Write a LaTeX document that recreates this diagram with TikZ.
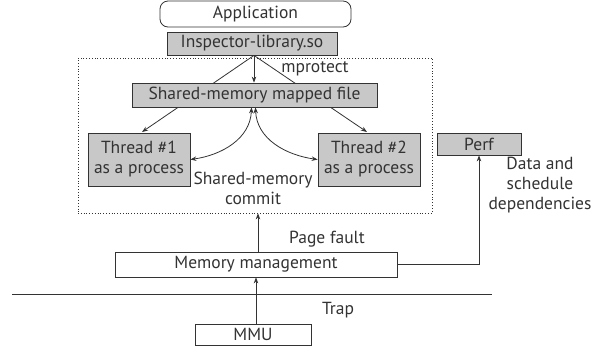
\documentclass[tikz,border=0pt]{standalone}
\usepackage{fontspec}
\setmainfont{PT Sans}
\usetikzlibrary{arrows.meta,positioning,calc}
\definecolor{boxgray}{RGB}{200,200,200}
\definecolor{ink}{RGB}{51,51,51}

\begin{document}
\begin{tikzpicture}[x=1pt,y=-1pt,font=\fontsize{17.5}{20}\selectfont,
  every node/.style={text=ink,inner sep=0pt,align=center},
  >={Stealth[length=6pt,width=4.5pt]}]
\tikzset{plain box/.style={draw=ink,line width=0.8pt,fill=white}}
\tikzset{gray box/.style={plain box,fill=boxgray}}
\tikzset{link/.style={draw=ink,line width=0.8pt}}
\useasboundingbox (0,0) rectangle (599,349);
% user space
\node [plain box,rounded corners=8pt,minimum width=191pt,minimum height=26pt] (app) at (255.5,14) {Application};
\node [gray box,minimum width=170pt,minimum height=23pt] (insp) at (252,43.5) {Inspector-library.so};
% dotted region with the threads
\node [draw=ink,dotted,line width=0.8pt,minimum width=354pt,minimum height=155pt] (frame) at (255,135.5) {};
\node [gray box,minimum width=102pt,minimum height=53pt] (thr1) at (139,159.5) {Thread \#1\\as a process};
\node [gray box,minimum width=102pt,minimum height=53pt] (thr2) at (369,159.5) {Thread \#2\\as a process};
\coordinate (top1) at (142,132);
\coordinate (top2) at (367,132);
\draw [link,->] ([xshift=2pt]insp.south) -- (top1);
\draw [link,->] ([xshift=2pt]insp.south) -- (top2);
\node [gray box,minimum width=245pt,minimum height=24pt] (shm) at (254.5,95) {Shared-memory mapped file};
\draw [link,->] ([xshift=2pt]insp.south) -- ([xshift=-0.5pt]shm.north);
\node (mprot) at (315,69) {mprotect};
\draw [link,<->] ([xshift=-3pt]shm.south) to[out=-92,in=8] (thr1.east);
\draw [link,<->] ([xshift=1pt]shm.south) to[out=-88,in=172] (thr2.west);
\node (commit) at (253,188) {Shared-memory\\commit};
% perf
\node [gray box,minimum width=84pt,minimum height=22pt] (perf) at (479,144) {Perf};
\node (dep) at (540,185) {Data and\\schedule\\dependencies};
% kernel
\node [plain box,minimum width=282pt,minimum height=25pt] (mm) at (256,264.5) {Memory management};
\draw [link,->] ([xshift=2pt]mm.north) -- ([xshift=2pt]mm.north |- frame.south);
\node (fault) at (327,239) {Page fault};
\draw [link,->] (mm.east) -| (perf.south);
\coordinate (sep1) at (12,294);
\coordinate (sep2) at (492,294);
\draw [link] (sep1) -- (sep2);
\node [plain box,minimum width=116pt,minimum height=21pt] (mmu) at (253,334.5) {MMU};
\node (trap) at (338,310) {Trap};
\draw [link,->] (mm.south |- mmu.north) -- (mm.south);
\end{tikzpicture}
\end{document}
